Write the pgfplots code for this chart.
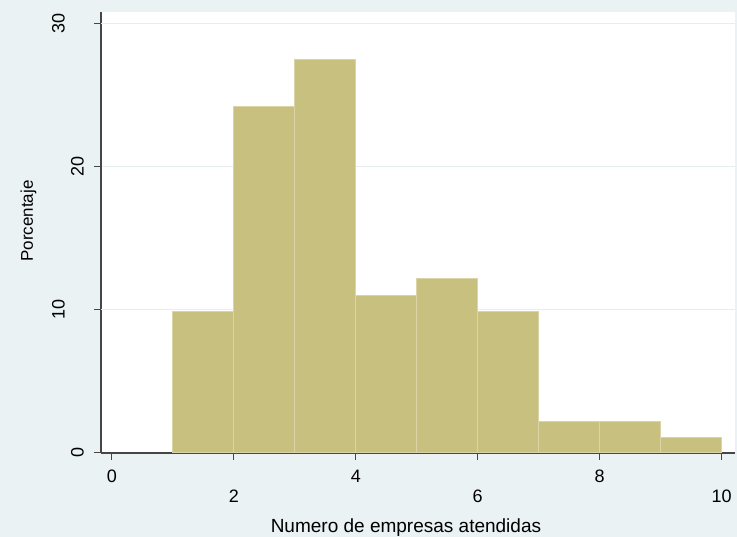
\documentclass[border=0pt]{standalone}
\usepackage{pgfplots}
\pgfplotsset{compat=1.18}
\usepackage{fontspec}
\setmainfont{Liberation Sans}
\definecolor{bgc}{RGB}{234,242,243}
\definecolor{barc}{RGB}{200,192,126}
\definecolor{baredge}{RGB}{218,212,166}
\definecolor{axc}{RGB}{70,70,70}
\definecolor{gridc}{RGB}{230,238,240}
\begin{document}
\begin{tikzpicture}[x=1pt,y=1pt]
\fill[bgc] (0,0) rectangle (737,537);
\useasboundingbox (0,0) rectangle (737,537);
\begin{axis}[
  at={(101pt,84pt)}, anchor=south west,
  width=634pt, height=441pt, scale only axis,
  xmin=-0.18, xmax=10.22, ymin=0, ymax=30.8,
  axis background/.style={fill=white},
  axis lines*=left,
  axis line style={draw=axc, line width=1.1pt},
  tick align=outside, major tick length=7pt,
  tick style={draw=axc, line width=1pt},
  xtick={0,4,8}, xticklabels={0,4,8},
  extra x ticks={2,6,10}, extra x tick labels={2,6,10},
  extra x tick style={xticklabel style={yshift=-20pt}},
  ytick={0,20}, yticklabels={\rotatebox{90}{0},\rotatebox{90}{20}},
  extra y ticks={10,30}, extra y tick labels={\rotatebox{90}{10},\rotatebox{90}{30}},
  extra y tick style={yticklabel style={xshift=-19pt}, grid=major},
  ymajorgrids, grid style={draw=gridc, line width=1pt},
  xticklabel style={font=\fontsize{18}{18}\selectfont, anchor=north, inner sep=0pt, yshift=-10pt},
  yticklabel style={font=\fontsize{18}{18}\selectfont, anchor=east, inner sep=0pt, xshift=-10pt},
  xlabel={Numero de empresas atendidas},
  ylabel={Porcentaje},
  xlabel style={font=\fontsize{19}{19}\selectfont, at={(axis description cs:0.481,-0.1814)}, anchor=base},
  ylabel style={font=\fontsize{17}{17}\selectfont, at={(axis description cs:-0.1073,0.526)}, anchor=base},
]
\addplot[ybar interval, fill=barc, draw=baredge, line width=1pt] coordinates {(1,9.9)(2,24.2)(3,27.5)(4,11.0)(5,12.2)(6,9.9)(7,2.2)(8,2.2)(9,1.1)(10,1.1)};
\end{axis}
\end{tikzpicture}
\end{document}
